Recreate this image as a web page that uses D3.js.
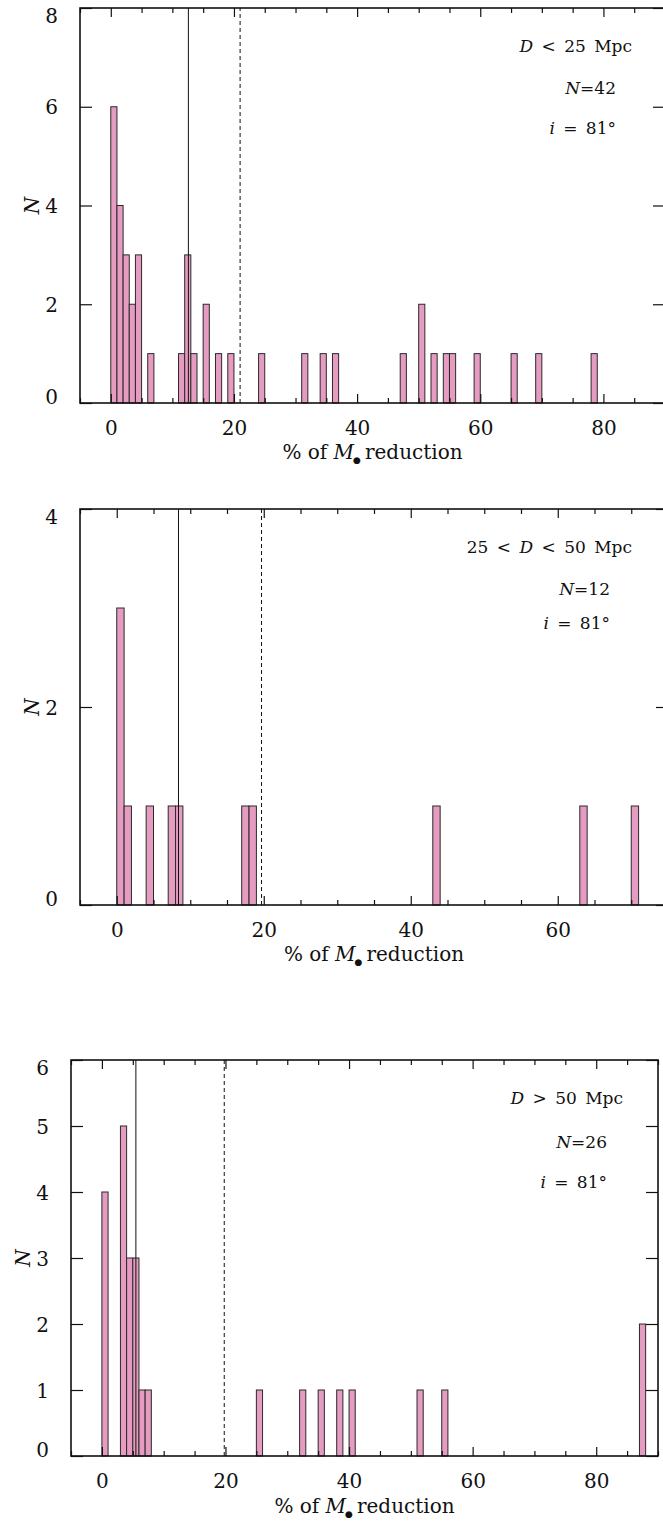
<!DOCTYPE html>
<html>
<head>
<meta charset="utf-8">
<script src="https://cdn.jsdelivr.net/npm/d3@7"></script>
<style>
  html, body { margin: 0; padding: 0; background: #fff; }
  svg { display: block; overflow: hidden; }
  text { font-family: "DejaVu Serif", "Liberation Serif", serif; fill: #111; }
</style>
</head>
<body>
<svg id="chart" width="663" height="1524"></svg>
<script>
// ---------- data ----------
// Panel 1: D < 25 Mpc
const p1BinStart = [0, 1, 2, 3, 4, 6, 11, 12, 13, 15, 17, 19, 24, 31, 34, 36, 47, 50, 52, 54, 55, 59, 65, 69, 78];
const p1Counts   = [6, 4, 3, 2, 3, 1, 1, 3, 1, 2, 1, 1, 1, 1, 1, 1, 1, 2, 1, 1, 1, 1, 1, 1, 1];
const p1Median = 12.6, p1Mean = 21.0;
const p1N = "42";
// Panel 2: 25 < D < 50 Mpc
const p2BinStart = [0, 1, 4, 7, 8, 17, 18, 43, 63, 70];
const p2Counts   = [3, 1, 1, 1, 1, 1, 1, 1, 1, 1];
const p2Median = 8.4, p2Mean = 19.7;
const p2N = "12";
// Panel 3: D > 50 Mpc
const p3BinStart = [0, 3, 4, 5, 6, 7, 25, 32, 35, 38, 40, 51, 55, 87];
const p3Counts   = [4, 5, 3, 3, 1, 1, 1, 1, 1, 1, 1, 1, 1, 2];
const p3Median = 5.5, p3Mean = 19.8;
const p3N = "26";

const binWidth = 1;
const xTickMajor = [0, 20, 40, 60, 80];
const p1YTicks = [0, 2, 4, 6, 8];
const p2YTicks = [0, 2, 4];
const p3YTicks = [0, 1, 2, 3, 4, 5, 6];
const inclination = "81°";

const svg = d3.select("#chart");

function drawPanel(cfg) {
  const g = svg.append("g");
  const x = d3.scaleLinear().domain(cfg.xDomain).range([cfg.left, cfg.right]);
  const y = d3.scaleLinear().domain(cfg.yDomain).range([cfg.bottom, cfg.top]);
  const data = cfg.bins.map((b, i) => ({ x0: b, x1: b + binWidth, n: cfg.counts[i] }));

  // bars
  g.selectAll("rect.bar").data(data).enter().append("rect")
    .attr("class", "bar")
    .attr("x", d => x(d.x0))
    .attr("width", d => x(d.x1) - x(d.x0))
    .attr("y", d => y(d.n))
    .attr("height", d => y(0) - y(d.n))
    .attr("fill", "#e59cc0")
    .attr("stroke", "#2a2a2a")
    .attr("stroke-width", 1);

  // median and mean lines
  g.append("line")
    .attr("x1", x(cfg.median)).attr("x2", x(cfg.median))
    .attr("y1", y.range()[0]).attr("y2", y.range()[1])
    .attr("stroke", "#111").attr("stroke-width", 1);
  g.append("line")
    .attr("x1", x(cfg.mean)).attr("x2", x(cfg.mean))
    .attr("y1", y.range()[0]).attr("y2", y.range()[1])
    .attr("stroke", "#111").attr("stroke-width", 1)
    .attr("stroke-dasharray", "4,3");

  // frame
  g.append("rect")
    .attr("x", cfg.left).attr("y", cfg.top)
    .attr("width", cfg.right - cfg.left).attr("height", cfg.bottom - cfg.top)
    .attr("fill", "none").attr("stroke", "#111").attr("stroke-width", 1.6);

  // x axes (bottom with labels, top without), ticks inward
  const majors = xTickMajor.filter(v => v <= cfg.xDomain[1]);
  const minorX = d3.range(-5, cfg.xDomain[1] + 0.001, 5).filter(v => xTickMajor.indexOf(v) < 0);
  const xb = d3.axisBottom(x).tickValues(majors)
    .tickSizeInner(-9).tickSizeOuter(0).tickPadding(18).tickFormat(d3.format("d"));
  const gxb = g.append("g").attr("transform", `translate(0,${cfg.bottom})`).call(xb);
  const xbm = d3.axisBottom(x).tickValues(minorX).tickSize(-5).tickSizeOuter(0).tickFormat("");
  const gxbm = g.append("g").attr("transform", `translate(0,${cfg.bottom})`).call(xbm);
  const xt = d3.axisTop(x).tickValues(majors)
    .tickSizeInner(-9).tickSizeOuter(0).tickFormat("");
  const gxt = g.append("g").attr("transform", `translate(0,${cfg.top})`).call(xt);
  const xtm = d3.axisTop(x).tickValues(minorX).tickSize(-5).tickSizeOuter(0).tickFormat("");
  const gxtm = g.append("g").attr("transform", `translate(0,${cfg.top})`).call(xtm);

  // y axes
  const yl = d3.axisLeft(y).tickValues(cfg.yTicks).tickSizeInner(-12).tickSizeOuter(0)
    .tickPadding(22).tickFormat(d3.format("d"));
  const gyl = g.append("g").attr("transform", `translate(${cfg.left},0)`).call(yl);
  const yr = d3.axisRight(y).tickValues(cfg.yTicks).tickSizeInner(-12).tickSizeOuter(0).tickFormat("");
  const gyr = g.append("g").attr("transform", `translate(${cfg.right},0)`).call(yr);

  [gxb, gxbm, gxt, gxtm, gyl, gyr].forEach(a => {
    a.select(".domain").remove();
    a.selectAll(".tick line").attr("stroke", "#111").attr("stroke-width", 1.2);
    a.selectAll(".tick text").attr("font-family", "DejaVu Serif").attr("font-size", 20)
      .attr("fill", "#111");
  });
  const yMin = cfg.yDomain[0], yMax = cfg.yDomain[1];
  // IDL-style: bottom label sits on the axis, top label hangs below the frame top
  gyl.selectAll(".tick text").attr("dy", d => d === yMin ? "0em" : (d === yMax ? "0.74em" : "0.36em"));
  gxb.selectAll(".tick text").attr("dy", "0.71em");

  // axis titles
  const xt1 = g.append("text")
    .attr("x", (cfg.left + cfg.right) / 2)
    .attr("y", cfg.bottom + cfg.titleOffset)
    .attr("text-anchor", "middle")
    .attr("font-size", 20);
  xt1.append("tspan").text("% of ");
  xt1.append("tspan").attr("font-style", "italic").text("M");
  xt1.append("tspan").attr("font-size", 9).attr("dy", 4).attr("dx", -1).text("\u25CF");
  xt1.append("tspan").attr("dy", -4).attr("dx", 4).text("reduction");

  g.append("text")
    .attr("transform", `translate(${cfg.left - cfg.yTitleOffset},${(cfg.top + cfg.bottom) / 2}) rotate(-90)`)
    .attr("text-anchor", "middle")
    .attr("dy", "0.35em")
    .attr("font-size", 20)
    .attr("font-style", "italic")
    .text("N");

  // annotations
  const lab = g.append("text")
    .attr("x", cfg.labelX).attr("y", cfg.top + cfg.labelY[0])
    .attr("text-anchor", "end").attr("font-size", 17).attr("word-spacing", 3);
  cfg.labelParts.forEach(p => {
    lab.append("tspan").attr("font-style", p.italic ? "italic" : "normal").text(p.t);
  });
  const nl = g.append("text")
    .attr("x", cfg.nX).attr("y", cfg.top + cfg.labelY[1])
    .attr("text-anchor", "end").attr("font-size", 17);
  nl.append("tspan").attr("font-style", "italic").text("N");
  nl.append("tspan").text("=" + cfg.n);
  const il = g.append("text")
    .attr("x", cfg.nX).attr("y", cfg.top + cfg.labelY[2])
    .attr("text-anchor", "end").attr("font-size", 17).attr("word-spacing", 3);
  il.append("tspan").attr("font-style", "italic").text("i");
  il.append("tspan").text(" = " + inclination);
}

drawPanel({
  left: 80, right: 665, top: 8, bottom: 403,
  xDomain: [-5, 90], yDomain: [0, 8], yTicks: p1YTicks,
  bins: p1BinStart, counts: p1Counts, median: p1Median, mean: p1Mean,
  titleOffset: 56, yTitleOffset: 48,
  labelX: 632, nX: 616, labelY: [44, 86, 126],
  labelParts: [{ t: "D", italic: true }, { t: " < 25 Mpc" }], n: p1N
});

drawPanel({
  left: 80, right: 668, top: 509, bottom: 905,
  xDomain: [-5, 75], yDomain: [0, 4], yTicks: p2YTicks,
  bins: p2BinStart, counts: p2Counts, median: p2Median, mean: p2Mean,
  titleOffset: 56, yTitleOffset: 48,
  labelX: 632, nX: 610, labelY: [44, 86, 120],
  labelParts: [{ t: "25 < " }, { t: "D", italic: true }, { t: " < 50 Mpc" }], n: p2N
});

drawPanel({
  left: 71, right: 658, top: 1060, bottom: 1456,
  xDomain: [-5, 90], yDomain: [0, 6], yTicks: p3YTicks,
  bins: p3BinStart, counts: p3Counts, median: p3Median, mean: p3Mean,
  titleOffset: 57, yTitleOffset: 48,
  labelX: 623, nX: 607, labelY: [44, 88, 128],
  labelParts: [{ t: "D", italic: true }, { t: " > 50 Mpc" }], n: p3N
});
</script>
</body>
</html>
